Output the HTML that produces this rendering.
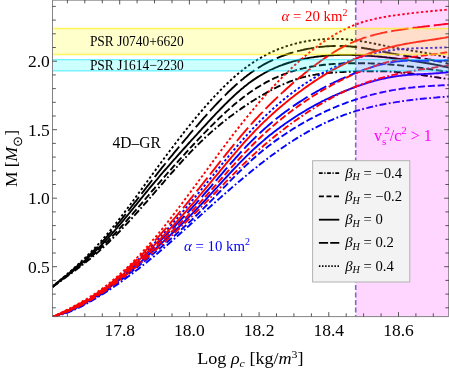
<!DOCTYPE html>
<html><head><meta charset="utf-8"><title>plot</title>
<style>html,body{margin:0;padding:0;background:#fff;}body{width:449px;height:371px;position:relative;overflow:hidden;font-family:"Liberation Serif",serif;}</style>
</head><body>
<svg width="449" height="371" viewBox="0 0 449 371" style="position:absolute;left:0;top:0;will-change:transform;font-family:'Liberation Serif',serif">
<defs><clipPath id="cp"><rect x="52.5" y="0" width="396.5" height="316.6"/></clipPath></defs>
<rect x="0" y="0" width="449" height="371" fill="#fff"/>
<g clip-path="url(#cp)" fill="none">
<line x1="355.7" y1="0" x2="355.7" y2="316.6" stroke="#5E81B5" stroke-width="1.6" stroke-dasharray="5 2.5"/>
<path d="M52.5,287.0 L54.0,285.9 L55.5,284.8 L57.0,283.7 L58.5,282.6 L60.0,281.5 L61.5,280.4 L63.0,279.3 L64.5,278.3 L66.0,277.2 L67.5,276.1 L69.0,275.0 L70.5,273.9 L72.0,272.8 L73.5,271.7 L75.0,270.5 L76.5,269.4 L78.0,268.3 L79.5,267.2 L81.0,266.0 L82.5,264.8 L84.0,263.7 L85.5,262.5 L87.0,261.3 L88.5,260.1 L90.0,258.9 L91.5,257.7 L93.0,256.4 L94.5,255.1 L96.0,253.9 L97.5,252.6 L99.0,251.3 L100.5,249.9 L102.0,248.6 L103.5,247.2 L105.0,245.8 L106.5,244.4 L108.0,243.0 L109.5,241.5 L111.0,240.1 L112.5,238.6 L114.0,237.1 L115.5,235.6 L117.0,234.1 L118.5,232.5 L120.0,231.0 L121.5,229.4 L123.0,227.8 L124.5,226.2 L126.0,224.6 L127.5,223.0 L129.0,221.4 L130.5,219.8 L132.0,218.1 L133.5,216.5 L135.0,214.8 L136.5,213.2 L138.0,211.5 L139.5,209.8 L141.0,208.1 L142.5,206.4 L144.0,204.7 L145.5,203.0 L147.0,201.3 L148.5,199.6 L150.0,197.8 L151.5,196.1 L153.0,194.4 L154.5,192.7 L156.0,190.9 L157.5,189.2 L159.0,187.5 L160.5,185.7 L162.0,184.0 L163.5,182.3 L165.0,180.5 L166.5,178.8 L168.0,177.1 L169.5,175.4 L171.0,173.7 L172.5,172.0 L174.0,170.3 L175.5,168.6 L177.0,166.9 L178.5,165.2 L180.0,163.5 L181.5,161.9 L183.0,160.2 L184.5,158.6 L186.0,157.0 L187.5,155.4 L189.0,153.8 L190.5,152.2 L192.0,150.6 L193.5,149.1 L195.0,147.6 L196.5,146.0 L198.0,144.5 L199.5,143.1 L201.0,141.6 L202.5,140.2 L204.0,138.7 L205.5,137.3 L207.0,135.9 L208.5,134.6 L210.0,133.2 L211.5,131.9 L213.0,130.6 L214.5,129.3 L216.0,128.0 L217.5,126.7 L219.0,125.5 L220.5,124.2 L222.0,123.0 L223.5,121.8 L225.0,120.6 L226.5,119.4 L228.0,118.3 L229.5,117.1 L231.0,116.0 L232.5,114.9 L234.0,113.8 L235.5,112.7 L237.0,111.6 L238.5,110.5 L240.0,109.5 L241.5,108.4 L243.0,107.4 L244.5,106.4 L246.0,105.4 L247.5,104.4 L249.0,103.4 L250.5,102.4 L252.0,101.4 L253.5,100.5 L255.0,99.5 L256.5,98.6 L258.0,97.7 L259.5,96.8 L261.0,95.9 L262.5,95.0 L264.0,94.1 L265.5,93.3 L267.0,92.4 L268.5,91.6 L270.0,90.8 L271.5,90.0 L273.0,89.2 L274.5,88.4 L276.0,87.7 L277.5,86.9 L279.0,86.2 L280.5,85.5 L282.0,84.8 L283.5,84.2 L285.0,83.5 L286.5,82.9 L288.0,82.3 L289.5,81.7 L291.0,81.1 L292.5,80.6 L294.0,80.0 L295.5,79.5 L297.0,79.0 L298.5,78.5 L300.0,78.1 L301.5,77.7 L303.0,77.2 L304.5,76.9 L306.0,76.5 L307.5,76.1 L309.0,75.8 L310.5,75.5 L312.0,75.2 L313.5,74.9 L315.0,74.7 L316.5,74.4 L318.0,74.2 L319.5,74.0 L321.0,73.8 L322.5,73.6 L324.0,73.4 L325.5,73.2 L327.0,73.1 L328.5,73.0 L330.0,72.8 L331.5,72.7 L333.0,72.6 L334.5,72.5 L336.0,72.4 L337.5,72.3 L339.0,72.2 L340.5,72.1 L342.0,72.1 L343.5,72.0 L345.0,71.9 L346.5,71.9 L348.0,71.8 L349.5,71.7 L351.0,71.7 L352.5,71.6 L354.0,71.6 L355.5,71.5 L357.0,71.5 L358.5,71.4 L360.0,71.4 L361.5,71.4 L363.0,71.3 L364.5,71.3 L366.0,71.3 L367.5,71.2 L369.0,71.2 L370.5,71.2 L372.0,71.2 L373.5,71.2 L375.0,71.2 L376.5,71.2 L378.0,71.2 L379.5,71.2 L381.0,71.3 L382.5,71.3 L384.0,71.3 L385.5,71.4 L387.0,71.4 L388.5,71.5 L390.0,71.6 L391.5,71.6 L393.0,71.7 L394.5,71.8 L396.0,71.9 L397.5,72.1 L399.0,72.2 L400.5,72.3 L402.0,72.5 L403.5,72.6 L405.0,72.8 L406.5,73.0 L408.0,73.1 L409.5,73.3 L411.0,73.5 L412.5,73.7 L414.0,73.9 L415.5,74.1 L417.0,74.4 L418.5,74.6 L420.0,74.8 L421.5,75.0 L423.0,75.2 L424.5,75.5 L426.0,75.7 L427.5,75.9 L429.0,76.2 L430.5,76.4 L432.0,76.6 L433.5,76.9 L435.0,77.1 L436.5,77.3 L438.0,77.5 L439.5,77.8 L441.0,78.0 L442.5,78.2 L444.0,78.4 L445.5,78.6 L447.0,78.8 L448.5,78.9 L449.0,79.0" stroke="#000000" stroke-width="1.9" stroke-dasharray="7 2.4 1.8 2.4"/>
<path d="M52.5,286.9 L54.0,285.7 L55.5,284.6 L57.0,283.4 L58.5,282.2 L60.0,281.1 L61.5,280.0 L63.0,278.8 L64.5,277.7 L66.0,276.5 L67.5,275.4 L69.0,274.3 L70.5,273.1 L72.0,272.0 L73.5,270.8 L75.0,269.7 L76.5,268.5 L78.0,267.3 L79.5,266.2 L81.0,265.0 L82.5,263.8 L84.0,262.6 L85.5,261.3 L87.0,260.1 L88.5,258.9 L90.0,257.6 L91.5,256.3 L93.0,255.0 L94.5,253.7 L96.0,252.4 L97.5,251.0 L99.0,249.6 L100.5,248.2 L102.0,246.8 L103.5,245.3 L105.0,243.9 L106.5,242.4 L108.0,240.9 L109.5,239.3 L111.0,237.8 L112.5,236.2 L114.0,234.6 L115.5,233.0 L117.0,231.4 L118.5,229.8 L120.0,228.1 L121.5,226.5 L123.0,224.8 L124.5,223.1 L126.0,221.4 L127.5,219.7 L129.0,218.0 L130.5,216.3 L132.0,214.5 L133.5,212.8 L135.0,211.1 L136.5,209.3 L138.0,207.6 L139.5,205.8 L141.0,204.1 L142.5,202.3 L144.0,200.5 L145.5,198.8 L147.0,197.0 L148.5,195.3 L150.0,193.5 L151.5,191.7 L153.0,190.0 L154.5,188.3 L156.0,186.5 L157.5,184.8 L159.0,183.0 L160.5,181.3 L162.0,179.6 L163.5,177.9 L165.0,176.1 L166.5,174.4 L168.0,172.7 L169.5,171.0 L171.0,169.3 L172.5,167.6 L174.0,165.9 L175.5,164.2 L177.0,162.6 L178.5,160.9 L180.0,159.2 L181.5,157.6 L183.0,155.9 L184.5,154.3 L186.0,152.6 L187.5,151.0 L189.0,149.3 L190.5,147.7 L192.0,146.1 L193.5,144.5 L195.0,142.9 L196.5,141.3 L198.0,139.7 L199.5,138.1 L201.0,136.6 L202.5,135.0 L204.0,133.4 L205.5,131.9 L207.0,130.3 L208.5,128.8 L210.0,127.3 L211.5,125.8 L213.0,124.3 L214.5,122.8 L216.0,121.3 L217.5,119.9 L219.0,118.4 L220.5,117.0 L222.0,115.6 L223.5,114.2 L225.0,112.8 L226.5,111.4 L228.0,110.1 L229.5,108.7 L231.0,107.4 L232.5,106.1 L234.0,104.8 L235.5,103.6 L237.0,102.3 L238.5,101.1 L240.0,99.9 L241.5,98.7 L243.0,97.5 L244.5,96.4 L246.0,95.3 L247.5,94.2 L249.0,93.1 L250.5,92.0 L252.0,91.0 L253.5,90.0 L255.0,89.0 L256.5,88.0 L258.0,87.1 L259.5,86.2 L261.0,85.3 L262.5,84.4 L264.0,83.6 L265.5,82.7 L267.0,81.9 L268.5,81.1 L270.0,80.4 L271.5,79.6 L273.0,78.9 L274.5,78.2 L276.0,77.5 L277.5,76.9 L279.0,76.2 L280.5,75.6 L282.0,75.0 L283.5,74.4 L285.0,73.8 L286.5,73.3 L288.0,72.7 L289.5,72.2 L291.0,71.7 L292.5,71.3 L294.0,70.8 L295.5,70.4 L297.0,69.9 L298.5,69.5 L300.0,69.1 L301.5,68.7 L303.0,68.4 L304.5,68.0 L306.0,67.7 L307.5,67.4 L309.0,67.1 L310.5,66.8 L312.0,66.5 L313.5,66.3 L315.0,66.0 L316.5,65.8 L318.0,65.6 L319.5,65.4 L321.0,65.2 L322.5,65.0 L324.0,64.8 L325.5,64.7 L327.0,64.5 L328.5,64.4 L330.0,64.2 L331.5,64.1 L333.0,64.0 L334.5,63.9 L336.0,63.8 L337.5,63.7 L339.0,63.7 L340.5,63.6 L342.0,63.5 L343.5,63.5 L345.0,63.4 L346.5,63.4 L348.0,63.3 L349.5,63.3 L351.0,63.3 L352.5,63.3 L354.0,63.2 L355.5,63.2 L357.0,63.2 L358.5,63.2 L360.0,63.2 L361.5,63.3 L363.0,63.3 L364.5,63.3 L366.0,63.3 L367.5,63.3 L369.0,63.4 L370.5,63.4 L372.0,63.5 L373.5,63.5 L375.0,63.6 L376.5,63.7 L378.0,63.7 L379.5,63.8 L381.0,63.9 L382.5,64.0 L384.0,64.1 L385.5,64.2 L387.0,64.3 L388.5,64.4 L390.0,64.5 L391.5,64.6 L393.0,64.7 L394.5,64.9 L396.0,65.0 L397.5,65.1 L399.0,65.3 L400.5,65.4 L402.0,65.6 L403.5,65.7 L405.0,65.9 L406.5,66.1 L408.0,66.3 L409.5,66.4 L411.0,66.6 L412.5,66.8 L414.0,67.0 L415.5,67.2 L417.0,67.4 L418.5,67.6 L420.0,67.8 L421.5,68.0 L423.0,68.2 L424.5,68.4 L426.0,68.7 L427.5,68.9 L429.0,69.1 L430.5,69.3 L432.0,69.5 L433.5,69.8 L435.0,70.0 L436.5,70.2 L438.0,70.4 L439.5,70.6 L441.0,70.8 L442.5,71.1 L444.0,71.3 L445.5,71.5 L447.0,71.7 L448.5,71.9 L449.0,72.0" stroke="#000000" stroke-width="1.9" stroke-dasharray="7 2.8"/>
<path d="M52.5,286.8 L54.0,285.6 L55.5,284.4 L57.0,283.2 L58.5,282.0 L60.0,280.8 L61.5,279.6 L63.0,278.4 L64.5,277.2 L66.0,276.0 L67.5,274.8 L69.0,273.6 L70.5,272.4 L72.0,271.2 L73.5,270.0 L75.0,268.8 L76.5,267.6 L78.0,266.4 L79.5,265.1 L81.0,263.9 L82.5,262.6 L84.0,261.3 L85.5,260.0 L87.0,258.7 L88.5,257.4 L90.0,256.1 L91.5,254.7 L93.0,253.3 L94.5,251.9 L96.0,250.5 L97.5,249.0 L99.0,247.5 L100.5,246.0 L102.0,244.5 L103.5,242.9 L105.0,241.3 L106.5,239.7 L108.0,238.1 L109.5,236.4 L111.0,234.8 L112.5,233.1 L114.0,231.4 L115.5,229.6 L117.0,227.9 L118.5,226.1 L120.0,224.4 L121.5,222.6 L123.0,220.8 L124.5,219.0 L126.0,217.1 L127.5,215.3 L129.0,213.5 L130.5,211.7 L132.0,209.8 L133.5,208.0 L135.0,206.1 L136.5,204.3 L138.0,202.4 L139.5,200.6 L141.0,198.7 L142.5,196.9 L144.0,195.0 L145.5,193.2 L147.0,191.3 L148.5,189.5 L150.0,187.7 L151.5,185.9 L153.0,184.1 L154.5,182.3 L156.0,180.5 L157.5,178.8 L159.0,177.0 L160.5,175.2 L162.0,173.5 L163.5,171.7 L165.0,170.0 L166.5,168.3 L168.0,166.6 L169.5,164.9 L171.0,163.1 L172.5,161.4 L174.0,159.7 L175.5,158.1 L177.0,156.4 L178.5,154.7 L180.0,153.0 L181.5,151.3 L183.0,149.7 L184.5,148.0 L186.0,146.3 L187.5,144.7 L189.0,143.0 L190.5,141.4 L192.0,139.7 L193.5,138.1 L195.0,136.4 L196.5,134.8 L198.0,133.2 L199.5,131.5 L201.0,129.9 L202.5,128.2 L204.0,126.6 L205.5,125.0 L207.0,123.3 L208.5,121.7 L210.0,120.1 L211.5,118.5 L213.0,116.9 L214.5,115.3 L216.0,113.7 L217.5,112.1 L219.0,110.6 L220.5,109.0 L222.0,107.5 L223.5,106.0 L225.0,104.4 L226.5,103.0 L228.0,101.5 L229.5,100.0 L231.0,98.6 L232.5,97.2 L234.0,95.8 L235.5,94.4 L237.0,93.0 L238.5,91.7 L240.0,90.4 L241.5,89.1 L243.0,87.9 L244.5,86.6 L246.0,85.4 L247.5,84.3 L249.0,83.1 L250.5,82.0 L252.0,80.9 L253.5,79.9 L255.0,78.9 L256.5,77.9 L258.0,76.9 L259.5,76.0 L261.0,75.1 L262.5,74.2 L264.0,73.3 L265.5,72.5 L267.0,71.7 L268.5,70.9 L270.0,70.2 L271.5,69.5 L273.0,68.8 L274.5,68.1 L276.0,67.5 L277.5,66.8 L279.0,66.2 L280.5,65.6 L282.0,65.1 L283.5,64.5 L285.0,64.0 L286.5,63.5 L288.0,63.0 L289.5,62.5 L291.0,62.1 L292.5,61.6 L294.0,61.2 L295.5,60.8 L297.0,60.4 L298.5,60.1 L300.0,59.7 L301.5,59.4 L303.0,59.1 L304.5,58.7 L306.0,58.4 L307.5,58.2 L309.0,57.9 L310.5,57.6 L312.0,57.4 L313.5,57.2 L315.0,56.9 L316.5,56.7 L318.0,56.5 L319.5,56.4 L321.0,56.2 L322.5,56.0 L324.0,55.9 L325.5,55.7 L327.0,55.6 L328.5,55.5 L330.0,55.4 L331.5,55.3 L333.0,55.2 L334.5,55.1 L336.0,55.1 L337.5,55.0 L339.0,55.0 L340.5,54.9 L342.0,54.9 L343.5,54.9 L345.0,54.9 L346.5,54.9 L348.0,54.9 L349.5,54.9 L351.0,54.9 L352.5,55.0 L354.0,55.0 L355.5,55.1 L357.0,55.1 L358.5,55.2 L360.0,55.2 L361.5,55.3 L363.0,55.4 L364.5,55.5 L366.0,55.6 L367.5,55.7 L369.0,55.8 L370.5,55.9 L372.0,56.0 L373.5,56.1 L375.0,56.3 L376.5,56.4 L378.0,56.5 L379.5,56.7 L381.0,56.8 L382.5,57.0 L384.0,57.1 L385.5,57.3 L387.0,57.5 L388.5,57.6 L390.0,57.8 L391.5,58.0 L393.0,58.2 L394.5,58.3 L396.0,58.5 L397.5,58.7 L399.0,58.9 L400.5,59.1 L402.0,59.3 L403.5,59.5 L405.0,59.7 L406.5,59.9 L408.0,60.1 L409.5,60.4 L411.0,60.6 L412.5,60.8 L414.0,61.0 L415.5,61.2 L417.0,61.5 L418.5,61.7 L420.0,62.0 L421.5,62.2 L423.0,62.5 L424.5,62.7 L426.0,63.0 L427.5,63.2 L429.0,63.5 L430.5,63.8 L432.0,64.1 L433.5,64.3 L435.0,64.6 L436.5,64.9 L438.0,65.2 L439.5,65.5 L441.0,65.8 L442.5,66.2 L444.0,66.5 L445.5,66.8 L447.0,67.1 L448.5,67.5 L449.0,67.6" stroke="#000000" stroke-width="1.9"/>
<path d="M52.5,286.7 L54.0,285.5 L55.5,284.2 L57.0,283.0 L58.5,281.8 L60.0,280.6 L61.5,279.3 L63.0,278.1 L64.5,276.9 L66.0,275.6 L67.5,274.4 L69.0,273.1 L70.5,271.9 L72.0,270.6 L73.5,269.3 L75.0,268.0 L76.5,266.7 L78.0,265.4 L79.5,264.1 L81.0,262.7 L82.5,261.4 L84.0,260.0 L85.5,258.6 L87.0,257.2 L88.5,255.8 L90.0,254.4 L91.5,252.9 L93.0,251.4 L94.5,249.9 L96.0,248.4 L97.5,246.9 L99.0,245.3 L100.5,243.7 L102.0,242.1 L103.5,240.5 L105.0,238.8 L106.5,237.1 L108.0,235.4 L109.5,233.7 L111.0,231.9 L112.5,230.2 L114.0,228.4 L115.5,226.6 L117.0,224.8 L118.5,223.0 L120.0,221.1 L121.5,219.3 L123.0,217.4 L124.5,215.5 L126.0,213.7 L127.5,211.8 L129.0,209.9 L130.5,208.0 L132.0,206.0 L133.5,204.1 L135.0,202.2 L136.5,200.3 L138.0,198.3 L139.5,196.4 L141.0,194.5 L142.5,192.5 L144.0,190.6 L145.5,188.7 L147.0,186.7 L148.5,184.8 L150.0,182.9 L151.5,181.0 L153.0,179.1 L154.5,177.2 L156.0,175.3 L157.5,173.4 L159.0,171.5 L160.5,169.6 L162.0,167.7 L163.5,165.9 L165.0,164.0 L166.5,162.1 L168.0,160.3 L169.5,158.4 L171.0,156.6 L172.5,154.8 L174.0,152.9 L175.5,151.1 L177.0,149.3 L178.5,147.5 L180.0,145.7 L181.5,143.9 L183.0,142.1 L184.5,140.3 L186.0,138.5 L187.5,136.8 L189.0,135.0 L190.5,133.2 L192.0,131.5 L193.5,129.7 L195.0,128.0 L196.5,126.3 L198.0,124.6 L199.5,122.8 L201.0,121.1 L202.5,119.4 L204.0,117.7 L205.5,116.1 L207.0,114.4 L208.5,112.7 L210.0,111.1 L211.5,109.4 L213.0,107.8 L214.5,106.2 L216.0,104.6 L217.5,103.0 L219.0,101.4 L220.5,99.9 L222.0,98.3 L223.5,96.8 L225.0,95.3 L226.5,93.8 L228.0,92.3 L229.5,90.9 L231.0,89.5 L232.5,88.0 L234.0,86.7 L235.5,85.3 L237.0,84.0 L238.5,82.6 L240.0,81.4 L241.5,80.1 L243.0,78.9 L244.5,77.6 L246.0,76.5 L247.5,75.3 L249.0,74.2 L250.5,73.1 L252.0,72.0 L253.5,71.0 L255.0,69.9 L256.5,69.0 L258.0,68.0 L259.5,67.1 L261.0,66.2 L262.5,65.3 L264.0,64.4 L265.5,63.6 L267.0,62.8 L268.5,62.0 L270.0,61.3 L271.5,60.6 L273.0,59.9 L274.5,59.2 L276.0,58.5 L277.5,57.9 L279.0,57.3 L280.5,56.7 L282.0,56.1 L283.5,55.5 L285.0,55.0 L286.5,54.5 L288.0,54.0 L289.5,53.5 L291.0,53.0 L292.5,52.6 L294.0,52.2 L295.5,51.7 L297.0,51.3 L298.5,50.9 L300.0,50.6 L301.5,50.2 L303.0,49.9 L304.5,49.5 L306.0,49.2 L307.5,48.9 L309.0,48.6 L310.5,48.4 L312.0,48.1 L313.5,47.9 L315.0,47.6 L316.5,47.4 L318.0,47.2 L319.5,47.0 L321.0,46.9 L322.5,46.7 L324.0,46.6 L325.5,46.4 L327.0,46.3 L328.5,46.2 L330.0,46.1 L331.5,46.1 L333.0,46.0 L334.5,46.0 L336.0,46.0 L337.5,45.9 L339.0,46.0 L340.5,46.0 L342.0,46.0 L343.5,46.1 L345.0,46.1 L346.5,46.2 L348.0,46.3 L349.5,46.4 L351.0,46.5 L352.5,46.7 L354.0,46.8 L355.5,47.0 L357.0,47.2 L358.5,47.4 L360.0,47.6 L361.5,47.8 L363.0,48.0 L364.5,48.3 L366.0,48.5 L367.5,48.8 L369.0,49.0 L370.5,49.3 L372.0,49.6 L373.5,49.8 L375.0,50.1 L376.5,50.4 L378.0,50.7 L379.5,51.0 L381.0,51.3 L382.5,51.6 L384.0,51.9 L385.5,52.2 L387.0,52.5 L388.5,52.8 L390.0,53.1 L391.5,53.4 L393.0,53.6 L394.5,53.9 L396.0,54.2 L397.5,54.5 L399.0,54.7 L400.5,55.0 L402.0,55.2 L403.5,55.5 L405.0,55.7 L406.5,56.0 L408.0,56.2 L409.5,56.4 L411.0,56.6 L412.5,56.9 L414.0,57.1 L415.5,57.3 L417.0,57.5 L418.5,57.8 L420.0,58.0 L421.5,58.2 L423.0,58.5 L424.5,58.7 L426.0,58.9 L427.5,59.2 L429.0,59.4 L430.5,59.7 L432.0,60.0 L433.5,60.3 L435.0,60.6 L436.5,60.9 L438.0,61.2 L439.5,61.5 L441.0,61.9 L442.5,62.2 L444.0,62.6 L445.5,63.0 L447.0,63.4 L448.5,63.9 L449.0,64.0" stroke="#000000" stroke-width="1.9" stroke-dasharray="17.5 4"/>
<path d="M52.5,286.5 L54.0,285.2 L55.5,284.0 L57.0,282.7 L58.5,281.5 L60.0,280.2 L61.5,279.0 L63.0,277.7 L64.5,276.4 L66.0,275.1 L67.5,273.8 L69.0,272.5 L70.5,271.2 L72.0,269.9 L73.5,268.6 L75.0,267.2 L76.5,265.9 L78.0,264.5 L79.5,263.1 L81.0,261.7 L82.5,260.3 L84.0,258.9 L85.5,257.4 L87.0,256.0 L88.5,254.5 L90.0,253.0 L91.5,251.4 L93.0,249.9 L94.5,248.3 L96.0,246.7 L97.5,245.1 L99.0,243.5 L100.5,241.8 L102.0,240.1 L103.5,238.4 L105.0,236.7 L106.5,234.9 L108.0,233.1 L109.5,231.3 L111.0,229.5 L112.5,227.6 L114.0,225.8 L115.5,223.9 L117.0,222.0 L118.5,220.1 L120.0,218.1 L121.5,216.2 L123.0,214.2 L124.5,212.3 L126.0,210.3 L127.5,208.3 L129.0,206.3 L130.5,204.3 L132.0,202.2 L133.5,200.2 L135.0,198.2 L136.5,196.1 L138.0,194.1 L139.5,192.0 L141.0,190.0 L142.5,187.9 L144.0,185.9 L145.5,183.8 L147.0,181.7 L148.5,179.7 L150.0,177.6 L151.5,175.6 L153.0,173.5 L154.5,171.5 L156.0,169.4 L157.5,167.4 L159.0,165.3 L160.5,163.3 L162.0,161.3 L163.5,159.3 L165.0,157.2 L166.5,155.2 L168.0,153.2 L169.5,151.2 L171.0,149.2 L172.5,147.3 L174.0,145.3 L175.5,143.3 L177.0,141.4 L178.5,139.4 L180.0,137.5 L181.5,135.6 L183.0,133.6 L184.5,131.7 L186.0,129.8 L187.5,128.0 L189.0,126.1 L190.5,124.2 L192.0,122.4 L193.5,120.5 L195.0,118.7 L196.5,116.9 L198.0,115.1 L199.5,113.3 L201.0,111.6 L202.5,109.8 L204.0,108.1 L205.5,106.4 L207.0,104.7 L208.5,103.0 L210.0,101.3 L211.5,99.7 L213.0,98.1 L214.5,96.4 L216.0,94.9 L217.5,93.3 L219.0,91.7 L220.5,90.2 L222.0,88.7 L223.5,87.2 L225.0,85.7 L226.5,84.2 L228.0,82.8 L229.5,81.4 L231.0,80.0 L232.5,78.7 L234.0,77.3 L235.5,76.0 L237.0,74.7 L238.5,73.4 L240.0,72.2 L241.5,71.0 L243.0,69.8 L244.5,68.6 L246.0,67.5 L247.5,66.4 L249.0,65.3 L250.5,64.2 L252.0,63.2 L253.5,62.2 L255.0,61.2 L256.5,60.3 L258.0,59.3 L259.5,58.4 L261.0,57.6 L262.5,56.7 L264.0,55.9 L265.5,55.1 L267.0,54.3 L268.5,53.6 L270.0,52.8 L271.5,52.1 L273.0,51.4 L274.5,50.8 L276.0,50.1 L277.5,49.5 L279.0,48.9 L280.5,48.4 L282.0,47.8 L283.5,47.3 L285.0,46.7 L286.5,46.2 L288.0,45.8 L289.5,45.3 L291.0,44.9 L292.5,44.4 L294.0,44.0 L295.5,43.6 L297.0,43.3 L298.5,42.9 L300.0,42.5 L301.5,42.2 L303.0,41.9 L304.5,41.6 L306.0,41.3 L307.5,41.1 L309.0,40.8 L310.5,40.6 L312.0,40.4 L313.5,40.1 L315.0,40.0 L316.5,39.8 L318.0,39.6 L319.5,39.5 L321.0,39.3 L322.5,39.2 L324.0,39.1 L325.5,39.0 L327.0,39.0 L328.5,38.9 L330.0,38.9 L331.5,38.8 L333.0,38.8 L334.5,38.8 L336.0,38.8 L337.5,38.9 L339.0,38.9 L340.5,39.0 L342.0,39.0 L343.5,39.1 L345.0,39.2 L346.5,39.4 L348.0,39.5 L349.5,39.6 L351.0,39.8 L352.5,40.0 L354.0,40.1 L355.5,40.3 L357.0,40.6 L358.5,40.8 L360.0,41.0 L361.5,41.3 L363.0,41.5 L364.5,41.8 L366.0,42.0 L367.5,42.3 L369.0,42.6 L370.5,42.9 L372.0,43.2 L373.5,43.5 L375.0,43.8 L376.5,44.1 L378.0,44.4 L379.5,44.7 L381.0,45.0 L382.5,45.3 L384.0,45.6 L385.5,46.0 L387.0,46.3 L388.5,46.6 L390.0,46.9 L391.5,47.2 L393.0,47.5 L394.5,47.8 L396.0,48.1 L397.5,48.3 L399.0,48.6 L400.5,48.9 L402.0,49.2 L403.5,49.4 L405.0,49.7 L406.5,49.9 L408.0,50.1 L409.5,50.4 L411.0,50.6 L412.5,50.8 L414.0,51.1 L415.5,51.3 L417.0,51.5 L418.5,51.8 L420.0,52.0 L421.5,52.2 L423.0,52.5 L424.5,52.7 L426.0,53.0 L427.5,53.2 L429.0,53.5 L430.5,53.8 L432.0,54.0 L433.5,54.3 L435.0,54.6 L436.5,54.9 L438.0,55.3 L439.5,55.6 L441.0,55.9 L442.5,56.3 L444.0,56.7 L445.5,57.0 L447.0,57.4 L448.5,57.9 L449.0,58.0" stroke="#000000" stroke-width="1.9" stroke-dasharray="2.4 2.3"/>
<path d="M52.5,317.0 L54.0,316.7 L55.5,316.4 L57.0,316.0 L58.5,315.6 L60.0,315.1 L61.5,314.7 L63.0,314.2 L64.5,313.7 L66.0,313.2 L67.5,312.6 L69.0,312.0 L70.5,311.4 L72.0,310.8 L73.5,310.1 L75.0,309.5 L76.5,308.8 L78.0,308.1 L79.5,307.3 L81.0,306.6 L82.5,305.8 L84.0,305.0 L85.5,304.2 L87.0,303.4 L88.5,302.6 L90.0,301.7 L91.5,300.9 L93.0,300.0 L94.5,299.1 L96.0,298.2 L97.5,297.3 L99.0,296.4 L100.5,295.5 L102.0,294.5 L103.5,293.6 L105.0,292.6 L106.5,291.7 L108.0,290.7 L109.5,289.7 L111.0,288.7 L112.5,287.7 L114.0,286.7 L115.5,285.6 L117.0,284.6 L118.5,283.6 L120.0,282.5 L121.5,281.5 L123.0,280.4 L124.5,279.3 L126.0,278.2 L127.5,277.1 L129.0,276.0 L130.5,274.9 L132.0,273.8 L133.5,272.6 L135.0,271.5 L136.5,270.3 L138.0,269.2 L139.5,268.0 L141.0,266.8 L142.5,265.7 L144.0,264.5 L145.5,263.3 L147.0,262.1 L148.5,260.8 L150.0,259.6 L151.5,258.4 L153.0,257.1 L154.5,255.9 L156.0,254.6 L157.5,253.4 L159.0,252.1 L160.5,250.8 L162.0,249.5 L163.5,248.3 L165.0,247.0 L166.5,245.7 L168.0,244.4 L169.5,243.0 L171.0,241.7 L172.5,240.4 L174.0,239.1 L175.5,237.8 L177.0,236.4 L178.5,235.1 L180.0,233.8 L181.5,232.4 L183.0,231.1 L184.5,229.7 L186.0,228.4 L187.5,227.0 L189.0,225.7 L190.5,224.3 L192.0,223.0 L193.5,221.6 L195.0,220.3 L196.5,219.0 L198.0,217.6 L199.5,216.3 L201.0,214.9 L202.5,213.6 L204.0,212.2 L205.5,210.9 L207.0,209.5 L208.5,208.2 L210.0,206.9 L211.5,205.5 L213.0,204.2 L214.5,202.9 L216.0,201.5 L217.5,200.2 L219.0,198.9 L220.5,197.6 L222.0,196.2 L223.5,194.9 L225.0,193.6 L226.5,192.3 L228.0,191.0 L229.5,189.7 L231.0,188.4 L232.5,187.1 L234.0,185.9 L235.5,184.6 L237.0,183.3 L238.5,182.0 L240.0,180.8 L241.5,179.5 L243.0,178.2 L244.5,177.0 L246.0,175.7 L247.5,174.5 L249.0,173.3 L250.5,172.0 L252.0,170.8 L253.5,169.6 L255.0,168.4 L256.5,167.2 L258.0,166.0 L259.5,164.8 L261.0,163.6 L262.5,162.5 L264.0,161.3 L265.5,160.2 L267.0,159.0 L268.5,157.9 L270.0,156.7 L271.5,155.6 L273.0,154.5 L274.5,153.4 L276.0,152.3 L277.5,151.2 L279.0,150.2 L280.5,149.1 L282.0,148.0 L283.5,147.0 L285.0,146.0 L286.5,144.9 L288.0,143.9 L289.5,142.9 L291.0,141.9 L292.5,141.0 L294.0,140.0 L295.5,139.1 L297.0,138.1 L298.5,137.2 L300.0,136.3 L301.5,135.4 L303.0,134.5 L304.5,133.6 L306.0,132.8 L307.5,131.9 L309.0,131.1 L310.5,130.2 L312.0,129.4 L313.5,128.6 L315.0,127.8 L316.5,127.1 L318.0,126.3 L319.5,125.6 L321.0,124.8 L322.5,124.1 L324.0,123.4 L325.5,122.7 L327.0,122.0 L328.5,121.3 L330.0,120.7 L331.5,120.0 L333.0,119.4 L334.5,118.8 L336.0,118.1 L337.5,117.5 L339.0,116.9 L340.5,116.4 L342.0,115.8 L343.5,115.2 L345.0,114.7 L346.5,114.2 L348.0,113.6 L349.5,113.1 L351.0,112.6 L352.5,112.1 L354.0,111.7 L355.5,111.2 L357.0,110.7 L358.5,110.3 L360.0,109.9 L361.5,109.5 L363.0,109.0 L364.5,108.6 L366.0,108.2 L367.5,107.9 L369.0,107.5 L370.5,107.1 L372.0,106.8 L373.5,106.4 L375.0,106.1 L376.5,105.7 L378.0,105.4 L379.5,105.1 L381.0,104.8 L382.5,104.5 L384.0,104.2 L385.5,103.9 L387.0,103.6 L388.5,103.4 L390.0,103.1 L391.5,102.9 L393.0,102.6 L394.5,102.4 L396.0,102.1 L397.5,101.9 L399.0,101.7 L400.5,101.4 L402.0,101.2 L403.5,101.0 L405.0,100.8 L406.5,100.6 L408.0,100.4 L409.5,100.2 L411.0,100.0 L412.5,99.9 L414.0,99.7 L415.5,99.5 L417.0,99.3 L418.5,99.2 L420.0,99.0 L421.5,98.8 L423.0,98.7 L424.5,98.5 L426.0,98.4 L427.5,98.2 L429.0,98.1 L430.5,98.0 L432.0,97.8 L433.5,97.7 L435.0,97.6 L436.5,97.5 L438.0,97.3 L439.5,97.2 L441.0,97.1 L442.5,97.0 L444.0,96.9 L445.5,96.8 L447.0,96.6 L448.5,96.5 L449.0,96.5" stroke="#0000ff" stroke-width="1.9" stroke-dasharray="7 2.4 1.8 2.4"/>
<path d="M52.5,317.0 L54.0,316.6 L55.5,316.2 L57.0,315.7 L58.5,315.2 L60.0,314.7 L61.5,314.2 L63.0,313.7 L64.5,313.1 L66.0,312.5 L67.5,312.0 L69.0,311.3 L70.5,310.7 L72.0,310.1 L73.5,309.4 L75.0,308.7 L76.5,308.0 L78.0,307.3 L79.5,306.6 L81.0,305.8 L82.5,305.1 L84.0,304.3 L85.5,303.5 L87.0,302.7 L88.5,301.8 L90.0,301.0 L91.5,300.1 L93.0,299.2 L94.5,298.3 L96.0,297.4 L97.5,296.5 L99.0,295.6 L100.5,294.6 L102.0,293.6 L103.5,292.6 L105.0,291.6 L106.5,290.6 L108.0,289.6 L109.5,288.5 L111.0,287.4 L112.5,286.4 L114.0,285.3 L115.5,284.2 L117.0,283.1 L118.5,282.0 L120.0,280.8 L121.5,279.7 L123.0,278.5 L124.5,277.4 L126.0,276.2 L127.5,275.0 L129.0,273.8 L130.5,272.6 L132.0,271.4 L133.5,270.2 L135.0,269.0 L136.5,267.8 L138.0,266.6 L139.5,265.3 L141.0,264.1 L142.5,262.9 L144.0,261.6 L145.5,260.4 L147.0,259.1 L148.5,257.9 L150.0,256.6 L151.5,255.3 L153.0,254.1 L154.5,252.8 L156.0,251.6 L157.5,250.3 L159.0,249.0 L160.5,247.8 L162.0,246.5 L163.5,245.2 L165.0,243.9 L166.5,242.6 L168.0,241.3 L169.5,240.0 L171.0,238.7 L172.5,237.4 L174.0,236.1 L175.5,234.8 L177.0,233.4 L178.5,232.1 L180.0,230.7 L181.5,229.4 L183.0,228.0 L184.5,226.6 L186.0,225.3 L187.5,223.9 L189.0,222.5 L190.5,221.1 L192.0,219.7 L193.5,218.2 L195.0,216.8 L196.5,215.3 L198.0,213.9 L199.5,212.4 L201.0,210.9 L202.5,209.4 L204.0,207.9 L205.5,206.4 L207.0,204.9 L208.5,203.4 L210.0,201.8 L211.5,200.3 L213.0,198.8 L214.5,197.2 L216.0,195.7 L217.5,194.1 L219.0,192.5 L220.5,191.0 L222.0,189.4 L223.5,187.9 L225.0,186.3 L226.5,184.8 L228.0,183.2 L229.5,181.7 L231.0,180.2 L232.5,178.6 L234.0,177.1 L235.5,175.6 L237.0,174.1 L238.5,172.6 L240.0,171.1 L241.5,169.7 L243.0,168.2 L244.5,166.8 L246.0,165.4 L247.5,164.0 L249.0,162.6 L250.5,161.2 L252.0,159.8 L253.5,158.5 L255.0,157.2 L256.5,155.9 L258.0,154.6 L259.5,153.3 L261.0,152.1 L262.5,150.8 L264.0,149.6 L265.5,148.4 L267.0,147.2 L268.5,146.1 L270.0,144.9 L271.5,143.8 L273.0,142.6 L274.5,141.5 L276.0,140.4 L277.5,139.4 L279.0,138.3 L280.5,137.2 L282.0,136.2 L283.5,135.2 L285.0,134.2 L286.5,133.2 L288.0,132.2 L289.5,131.2 L291.0,130.3 L292.5,129.3 L294.0,128.4 L295.5,127.5 L297.0,126.6 L298.5,125.7 L300.0,124.8 L301.5,123.9 L303.0,123.0 L304.5,122.2 L306.0,121.4 L307.5,120.5 L309.0,119.7 L310.5,118.9 L312.0,118.1 L313.5,117.3 L315.0,116.5 L316.5,115.8 L318.0,115.0 L319.5,114.3 L321.0,113.6 L322.5,112.8 L324.0,112.1 L325.5,111.4 L327.0,110.7 L328.5,110.1 L330.0,109.4 L331.5,108.7 L333.0,108.1 L334.5,107.5 L336.0,106.8 L337.5,106.2 L339.0,105.6 L340.5,105.0 L342.0,104.4 L343.5,103.9 L345.0,103.3 L346.5,102.7 L348.0,102.2 L349.5,101.6 L351.0,101.1 L352.5,100.6 L354.0,100.1 L355.5,99.6 L357.0,99.1 L358.5,98.6 L360.0,98.1 L361.5,97.7 L363.0,97.2 L364.5,96.8 L366.0,96.3 L367.5,95.9 L369.0,95.5 L370.5,95.1 L372.0,94.7 L373.5,94.3 L375.0,93.9 L376.5,93.6 L378.0,93.2 L379.5,92.9 L381.0,92.5 L382.5,92.2 L384.0,91.9 L385.5,91.6 L387.0,91.3 L388.5,91.0 L390.0,90.7 L391.5,90.4 L393.0,90.1 L394.5,89.9 L396.0,89.6 L397.5,89.4 L399.0,89.2 L400.5,88.9 L402.0,88.7 L403.5,88.5 L405.0,88.3 L406.5,88.1 L408.0,88.0 L409.5,87.8 L411.0,87.6 L412.5,87.5 L414.0,87.3 L415.5,87.2 L417.0,87.0 L418.5,86.9 L420.0,86.8 L421.5,86.6 L423.0,86.5 L424.5,86.4 L426.0,86.3 L427.5,86.2 L429.0,86.1 L430.5,86.0 L432.0,85.9 L433.5,85.8 L435.0,85.7 L436.5,85.6 L438.0,85.6 L439.5,85.5 L441.0,85.4 L442.5,85.3 L444.0,85.3 L445.5,85.2 L447.0,85.1 L448.5,85.0 L449.0,85.0" stroke="#0000ff" stroke-width="1.9" stroke-dasharray="7 2.8"/>
<path d="M52.5,317.0 L54.0,316.5 L55.5,316.0 L57.0,315.5 L58.5,314.9 L60.0,314.4 L61.5,313.8 L63.0,313.2 L64.5,312.6 L66.0,312.0 L67.5,311.4 L69.0,310.8 L70.5,310.1 L72.0,309.4 L73.5,308.7 L75.0,308.0 L76.5,307.3 L78.0,306.6 L79.5,305.8 L81.0,305.1 L82.5,304.3 L84.0,303.5 L85.5,302.7 L87.0,301.8 L88.5,301.0 L90.0,300.1 L91.5,299.2 L93.0,298.3 L94.5,297.4 L96.0,296.5 L97.5,295.5 L99.0,294.6 L100.5,293.6 L102.0,292.6 L103.5,291.6 L105.0,290.5 L106.5,289.5 L108.0,288.4 L109.5,287.3 L111.0,286.2 L112.5,285.1 L114.0,284.0 L115.5,282.8 L117.0,281.7 L118.5,280.5 L120.0,279.3 L121.5,278.1 L123.0,276.9 L124.5,275.7 L126.0,274.5 L127.5,273.2 L129.0,272.0 L130.5,270.7 L132.0,269.5 L133.5,268.2 L135.0,266.9 L136.5,265.6 L138.0,264.3 L139.5,263.0 L141.0,261.7 L142.5,260.4 L144.0,259.0 L145.5,257.7 L147.0,256.4 L148.5,255.0 L150.0,253.7 L151.5,252.4 L153.0,251.0 L154.5,249.6 L156.0,248.3 L157.5,246.9 L159.0,245.6 L160.5,244.2 L162.0,242.8 L163.5,241.4 L165.0,240.0 L166.5,238.6 L168.0,237.2 L169.5,235.8 L171.0,234.4 L172.5,233.0 L174.0,231.6 L175.5,230.1 L177.0,228.7 L178.5,227.3 L180.0,225.8 L181.5,224.3 L183.0,222.9 L184.5,221.4 L186.0,219.9 L187.5,218.4 L189.0,216.9 L190.5,215.4 L192.0,213.9 L193.5,212.4 L195.0,210.8 L196.5,209.3 L198.0,207.7 L199.5,206.1 L201.0,204.6 L202.5,203.0 L204.0,201.4 L205.5,199.8 L207.0,198.2 L208.5,196.5 L210.0,194.9 L211.5,193.3 L213.0,191.7 L214.5,190.0 L216.0,188.4 L217.5,186.8 L219.0,185.1 L220.5,183.5 L222.0,181.8 L223.5,180.2 L225.0,178.6 L226.5,177.0 L228.0,175.3 L229.5,173.7 L231.0,172.1 L232.5,170.5 L234.0,168.9 L235.5,167.3 L237.0,165.8 L238.5,164.2 L240.0,162.7 L241.5,161.1 L243.0,159.6 L244.5,158.1 L246.0,156.6 L247.5,155.1 L249.0,153.7 L250.5,152.2 L252.0,150.8 L253.5,149.4 L255.0,148.0 L256.5,146.7 L258.0,145.3 L259.5,144.0 L261.0,142.7 L262.5,141.4 L264.0,140.1 L265.5,138.8 L267.0,137.6 L268.5,136.3 L270.0,135.1 L271.5,133.9 L273.0,132.7 L274.5,131.6 L276.0,130.4 L277.5,129.3 L279.0,128.2 L280.5,127.0 L282.0,126.0 L283.5,124.9 L285.0,123.8 L286.5,122.8 L288.0,121.7 L289.5,120.7 L291.0,119.7 L292.5,118.7 L294.0,117.7 L295.5,116.7 L297.0,115.8 L298.5,114.8 L300.0,113.9 L301.5,113.0 L303.0,112.1 L304.5,111.2 L306.0,110.3 L307.5,109.4 L309.0,108.5 L310.5,107.7 L312.0,106.8 L313.5,106.0 L315.0,105.2 L316.5,104.4 L318.0,103.6 L319.5,102.8 L321.0,102.0 L322.5,101.2 L324.0,100.5 L325.5,99.7 L327.0,99.0 L328.5,98.3 L330.0,97.6 L331.5,96.9 L333.0,96.2 L334.5,95.5 L336.0,94.8 L337.5,94.2 L339.0,93.5 L340.5,92.9 L342.0,92.2 L343.5,91.6 L345.0,91.0 L346.5,90.4 L348.0,89.8 L349.5,89.2 L351.0,88.6 L352.5,88.0 L354.0,87.5 L355.5,86.9 L357.0,86.4 L358.5,85.9 L360.0,85.3 L361.5,84.8 L363.0,84.3 L364.5,83.8 L366.0,83.4 L367.5,82.9 L369.0,82.4 L370.5,82.0 L372.0,81.6 L373.5,81.1 L375.0,80.7 L376.5,80.3 L378.0,79.9 L379.5,79.6 L381.0,79.2 L382.5,78.8 L384.0,78.5 L385.5,78.2 L387.0,77.9 L388.5,77.6 L390.0,77.3 L391.5,77.0 L393.0,76.8 L394.5,76.5 L396.0,76.3 L397.5,76.1 L399.0,75.9 L400.5,75.7 L402.0,75.5 L403.5,75.3 L405.0,75.2 L406.5,75.1 L408.0,74.9 L409.5,74.8 L411.0,74.7 L412.5,74.6 L414.0,74.5 L415.5,74.4 L417.0,74.4 L418.5,74.3 L420.0,74.2 L421.5,74.1 L423.0,74.1 L424.5,74.0 L426.0,73.9 L427.5,73.9 L429.0,73.8 L430.5,73.7 L432.0,73.6 L433.5,73.5 L435.0,73.4 L436.5,73.3 L438.0,73.2 L439.5,73.1 L441.0,72.9 L442.5,72.8 L444.0,72.6 L445.5,72.5 L447.0,72.3 L448.5,72.1 L449.0,72.0" stroke="#0000ff" stroke-width="1.9"/>
<path d="M52.5,317.0 L54.0,316.4 L55.5,315.9 L57.0,315.3 L58.5,314.7 L60.0,314.1 L61.5,313.5 L63.0,312.8 L64.5,312.2 L66.0,311.5 L67.5,310.9 L69.0,310.2 L70.5,309.5 L72.0,308.8 L73.5,308.1 L75.0,307.3 L76.5,306.6 L78.0,305.8 L79.5,305.1 L81.0,304.3 L82.5,303.5 L84.0,302.7 L85.5,301.8 L87.0,301.0 L88.5,300.1 L90.0,299.2 L91.5,298.3 L93.0,297.4 L94.5,296.5 L96.0,295.5 L97.5,294.5 L99.0,293.6 L100.5,292.5 L102.0,291.5 L103.5,290.5 L105.0,289.4 L106.5,288.3 L108.0,287.2 L109.5,286.1 L111.0,285.0 L112.5,283.8 L114.0,282.6 L115.5,281.4 L117.0,280.2 L118.5,279.0 L120.0,277.8 L121.5,276.6 L123.0,275.3 L124.5,274.0 L126.0,272.8 L127.5,271.5 L129.0,270.2 L130.5,268.8 L132.0,267.5 L133.5,266.2 L135.0,264.8 L136.5,263.5 L138.0,262.1 L139.5,260.7 L141.0,259.3 L142.5,257.9 L144.0,256.5 L145.5,255.1 L147.0,253.7 L148.5,252.3 L150.0,250.8 L151.5,249.4 L153.0,247.9 L154.5,246.5 L156.0,245.0 L157.5,243.6 L159.0,242.1 L160.5,240.6 L162.0,239.1 L163.5,237.7 L165.0,236.2 L166.5,234.7 L168.0,233.1 L169.5,231.6 L171.0,230.1 L172.5,228.6 L174.0,227.0 L175.5,225.5 L177.0,223.9 L178.5,222.4 L180.0,220.8 L181.5,219.2 L183.0,217.6 L184.5,216.0 L186.0,214.4 L187.5,212.8 L189.0,211.2 L190.5,209.5 L192.0,207.9 L193.5,206.2 L195.0,204.6 L196.5,202.9 L198.0,201.2 L199.5,199.6 L201.0,197.9 L202.5,196.2 L204.0,194.4 L205.5,192.7 L207.0,191.0 L208.5,189.3 L210.0,187.5 L211.5,185.8 L213.0,184.0 L214.5,182.3 L216.0,180.5 L217.5,178.8 L219.0,177.0 L220.5,175.3 L222.0,173.6 L223.5,171.8 L225.0,170.1 L226.5,168.4 L228.0,166.6 L229.5,164.9 L231.0,163.2 L232.5,161.5 L234.0,159.8 L235.5,158.1 L237.0,156.5 L238.5,154.8 L240.0,153.2 L241.5,151.5 L243.0,149.9 L244.5,148.3 L246.0,146.7 L247.5,145.2 L249.0,143.6 L250.5,142.1 L252.0,140.6 L253.5,139.1 L255.0,137.7 L256.5,136.2 L258.0,134.8 L259.5,133.4 L261.0,132.0 L262.5,130.6 L264.0,129.2 L265.5,127.9 L267.0,126.6 L268.5,125.3 L270.0,124.0 L271.5,122.7 L273.0,121.5 L274.5,120.3 L276.0,119.0 L277.5,117.8 L279.0,116.7 L280.5,115.5 L282.0,114.3 L283.5,113.2 L285.0,112.1 L286.5,111.0 L288.0,109.9 L289.5,108.8 L291.0,107.7 L292.5,106.7 L294.0,105.6 L295.5,104.6 L297.0,103.6 L298.5,102.6 L300.0,101.6 L301.5,100.7 L303.0,99.7 L304.5,98.8 L306.0,97.8 L307.5,96.9 L309.0,96.0 L310.5,95.1 L312.0,94.2 L313.5,93.3 L315.0,92.5 L316.5,91.6 L318.0,90.8 L319.5,90.0 L321.0,89.1 L322.5,88.3 L324.0,87.5 L325.5,86.7 L327.0,86.0 L328.5,85.2 L330.0,84.4 L331.5,83.7 L333.0,83.0 L334.5,82.2 L336.0,81.5 L337.5,80.8 L339.0,80.1 L340.5,79.4 L342.0,78.7 L343.5,78.1 L345.0,77.4 L346.5,76.8 L348.0,76.1 L349.5,75.5 L351.0,74.8 L352.5,74.2 L354.0,73.6 L355.5,73.0 L357.0,72.4 L358.5,71.8 L360.0,71.3 L361.5,70.7 L363.0,70.1 L364.5,69.6 L366.0,69.1 L367.5,68.5 L369.0,68.0 L370.5,67.6 L372.0,67.1 L373.5,66.6 L375.0,66.2 L376.5,65.7 L378.0,65.3 L379.5,64.9 L381.0,64.5 L382.5,64.2 L384.0,63.8 L385.5,63.5 L387.0,63.1 L388.5,62.8 L390.0,62.6 L391.5,62.3 L393.0,62.0 L394.5,61.8 L396.0,61.6 L397.5,61.4 L399.0,61.3 L400.5,61.1 L402.0,61.0 L403.5,60.9 L405.0,60.8 L406.5,60.7 L408.0,60.7 L409.5,60.6 L411.0,60.6 L412.5,60.6 L414.0,60.6 L415.5,60.6 L417.0,60.6 L418.5,60.6 L420.0,60.6 L421.5,60.7 L423.0,60.7 L424.5,60.7 L426.0,60.7 L427.5,60.8 L429.0,60.8 L430.5,60.8 L432.0,60.8 L433.5,60.8 L435.0,60.8 L436.5,60.8 L438.0,60.7 L439.5,60.7 L441.0,60.6 L442.5,60.6 L444.0,60.5 L445.5,60.3 L447.0,60.2 L448.5,60.1 L449.0,60.0" stroke="#0000ff" stroke-width="1.9" stroke-dasharray="17.5 4"/>
<path d="M52.5,317.0 L54.0,316.4 L55.5,315.7 L57.0,315.1 L58.5,314.4 L60.0,313.8 L61.5,313.1 L63.0,312.4 L64.5,311.7 L66.0,311.0 L67.5,310.3 L69.0,309.6 L70.5,308.9 L72.0,308.1 L73.5,307.4 L75.0,306.6 L76.5,305.9 L78.0,305.1 L79.5,304.3 L81.0,303.5 L82.5,302.6 L84.0,301.8 L85.5,300.9 L87.0,300.1 L88.5,299.2 L90.0,298.3 L91.5,297.3 L93.0,296.4 L94.5,295.4 L96.0,294.5 L97.5,293.5 L99.0,292.4 L100.5,291.4 L102.0,290.4 L103.5,289.3 L105.0,288.2 L106.5,287.1 L108.0,286.0 L109.5,284.8 L111.0,283.6 L112.5,282.5 L114.0,281.3 L115.5,280.0 L117.0,278.8 L118.5,277.5 L120.0,276.3 L121.5,275.0 L123.0,273.7 L124.5,272.4 L126.0,271.0 L127.5,269.7 L129.0,268.3 L130.5,266.9 L132.0,265.6 L133.5,264.2 L135.0,262.7 L136.5,261.3 L138.0,259.9 L139.5,258.4 L141.0,256.9 L142.5,255.4 L144.0,253.9 L145.5,252.4 L147.0,250.9 L148.5,249.4 L150.0,247.8 L151.5,246.3 L153.0,244.7 L154.5,243.1 L156.0,241.5 L157.5,240.0 L159.0,238.3 L160.5,236.7 L162.0,235.1 L163.5,233.5 L165.0,231.8 L166.5,230.2 L168.0,228.5 L169.5,226.8 L171.0,225.2 L172.5,223.5 L174.0,221.8 L175.5,220.1 L177.0,218.4 L178.5,216.6 L180.0,214.9 L181.5,213.2 L183.0,211.4 L184.5,209.7 L186.0,207.9 L187.5,206.1 L189.0,204.4 L190.5,202.6 L192.0,200.8 L193.5,199.0 L195.0,197.2 L196.5,195.4 L198.0,193.6 L199.5,191.8 L201.0,190.0 L202.5,188.1 L204.0,186.3 L205.5,184.5 L207.0,182.6 L208.5,180.8 L210.0,178.9 L211.5,177.1 L213.0,175.3 L214.5,173.4 L216.0,171.6 L217.5,169.7 L219.0,167.9 L220.5,166.1 L222.0,164.2 L223.5,162.4 L225.0,160.6 L226.5,158.8 L228.0,157.0 L229.5,155.2 L231.0,153.4 L232.5,151.6 L234.0,149.8 L235.5,148.1 L237.0,146.3 L238.5,144.6 L240.0,142.8 L241.5,141.1 L243.0,139.4 L244.5,137.7 L246.0,136.1 L247.5,134.4 L249.0,132.8 L250.5,131.1 L252.0,129.5 L253.5,127.9 L255.0,126.4 L256.5,124.8 L258.0,123.3 L259.5,121.7 L261.0,120.2 L262.5,118.7 L264.0,117.3 L265.5,115.8 L267.0,114.4 L268.5,113.0 L270.0,111.6 L271.5,110.2 L273.0,108.8 L274.5,107.5 L276.0,106.1 L277.5,104.8 L279.0,103.5 L280.5,102.2 L282.0,101.0 L283.5,99.7 L285.0,98.5 L286.5,97.3 L288.0,96.1 L289.5,94.9 L291.0,93.7 L292.5,92.6 L294.0,91.5 L295.5,90.4 L297.0,89.3 L298.5,88.2 L300.0,87.1 L301.5,86.1 L303.0,85.0 L304.5,84.0 L306.0,83.0 L307.5,82.1 L309.0,81.1 L310.5,80.2 L312.0,79.2 L313.5,78.3 L315.0,77.4 L316.5,76.5 L318.0,75.7 L319.5,74.8 L321.0,74.0 L322.5,73.1 L324.0,72.3 L325.5,71.5 L327.0,70.8 L328.5,70.0 L330.0,69.3 L331.5,68.5 L333.0,67.8 L334.5,67.1 L336.0,66.4 L337.5,65.7 L339.0,65.1 L340.5,64.4 L342.0,63.8 L343.5,63.2 L345.0,62.6 L346.5,62.0 L348.0,61.4 L349.5,60.9 L351.0,60.3 L352.5,59.8 L354.0,59.2 L355.5,58.7 L357.0,58.2 L358.5,57.7 L360.0,57.3 L361.5,56.8 L363.0,56.4 L364.5,55.9 L366.0,55.5 L367.5,55.1 L369.0,54.7 L370.5,54.3 L372.0,54.0 L373.5,53.6 L375.0,53.3 L376.5,52.9 L378.0,52.6 L379.5,52.3 L381.0,52.0 L382.5,51.7 L384.0,51.4 L385.5,51.2 L387.0,50.9 L388.5,50.7 L390.0,50.5 L391.5,50.3 L393.0,50.1 L394.5,49.9 L396.0,49.7 L397.5,49.5 L399.0,49.4 L400.5,49.2 L402.0,49.1 L403.5,49.0 L405.0,48.9 L406.5,48.8 L408.0,48.7 L409.5,48.6 L411.0,48.5 L412.5,48.4 L414.0,48.4 L415.5,48.3 L417.0,48.2 L418.5,48.2 L420.0,48.2 L421.5,48.1 L423.0,48.1 L424.5,48.0 L426.0,48.0 L427.5,48.0 L429.0,47.9 L430.5,47.9 L432.0,47.9 L433.5,47.8 L435.0,47.8 L436.5,47.7 L438.0,47.7 L439.5,47.6 L441.0,47.6 L442.5,47.5 L444.0,47.5 L445.5,47.4 L447.0,47.3 L448.5,47.2 L449.0,47.2" stroke="#0000ff" stroke-width="1.9" stroke-dasharray="2.4 2.3"/>
<path d="M52.5,317.0 L54.0,316.6 L55.5,316.1 L57.0,315.6 L58.5,315.1 L60.0,314.6 L61.5,314.0 L63.0,313.5 L64.5,312.9 L66.0,312.3 L67.5,311.7 L69.0,311.0 L70.5,310.4 L72.0,309.7 L73.5,309.1 L75.0,308.4 L76.5,307.6 L78.0,306.9 L79.5,306.2 L81.0,305.4 L82.5,304.6 L84.0,303.8 L85.5,303.0 L87.0,302.2 L88.5,301.3 L90.0,300.5 L91.5,299.6 L93.0,298.7 L94.5,297.8 L96.0,296.9 L97.5,295.9 L99.0,295.0 L100.5,294.0 L102.0,293.0 L103.5,292.0 L105.0,291.0 L106.5,289.9 L108.0,288.9 L109.5,287.8 L111.0,286.7 L112.5,285.7 L114.0,284.6 L115.5,283.4 L117.0,282.3 L118.5,281.2 L120.0,280.0 L121.5,278.9 L123.0,277.7 L124.5,276.5 L126.0,275.3 L127.5,274.1 L129.0,272.9 L130.5,271.7 L132.0,270.4 L133.5,269.2 L135.0,267.9 L136.5,266.7 L138.0,265.4 L139.5,264.1 L141.0,262.8 L142.5,261.6 L144.0,260.3 L145.5,259.0 L147.0,257.7 L148.5,256.4 L150.0,255.0 L151.5,253.7 L153.0,252.4 L154.5,251.1 L156.0,249.7 L157.5,248.4 L159.0,247.1 L160.5,245.7 L162.0,244.4 L163.5,243.0 L165.0,241.7 L166.5,240.3 L168.0,238.9 L169.5,237.5 L171.0,236.2 L172.5,234.8 L174.0,233.4 L175.5,232.0 L177.0,230.6 L178.5,229.2 L180.0,227.7 L181.5,226.3 L183.0,224.9 L184.5,223.5 L186.0,222.0 L187.5,220.6 L189.0,219.1 L190.5,217.7 L192.0,216.2 L193.5,214.7 L195.0,213.2 L196.5,211.8 L198.0,210.3 L199.5,208.8 L201.0,207.3 L202.5,205.8 L204.0,204.2 L205.5,202.7 L207.0,201.2 L208.5,199.7 L210.0,198.1 L211.5,196.6 L213.0,195.1 L214.5,193.5 L216.0,192.0 L217.5,190.4 L219.0,188.9 L220.5,187.4 L222.0,185.8 L223.5,184.3 L225.0,182.7 L226.5,181.2 L228.0,179.7 L229.5,178.2 L231.0,176.6 L232.5,175.1 L234.0,173.6 L235.5,172.1 L237.0,170.6 L238.5,169.1 L240.0,167.6 L241.5,166.2 L243.0,164.7 L244.5,163.2 L246.0,161.8 L247.5,160.4 L249.0,158.9 L250.5,157.5 L252.0,156.1 L253.5,154.7 L255.0,153.4 L256.5,152.0 L258.0,150.6 L259.5,149.3 L261.0,148.0 L262.5,146.7 L264.0,145.3 L265.5,144.1 L267.0,142.8 L268.5,141.5 L270.0,140.2 L271.5,139.0 L273.0,137.8 L274.5,136.5 L276.0,135.3 L277.5,134.1 L279.0,132.9 L280.5,131.8 L282.0,130.6 L283.5,129.4 L285.0,128.3 L286.5,127.1 L288.0,126.0 L289.5,124.9 L291.0,123.8 L292.5,122.7 L294.0,121.6 L295.5,120.5 L297.0,119.5 L298.5,118.4 L300.0,117.4 L301.5,116.4 L303.0,115.3 L304.5,114.3 L306.0,113.3 L307.5,112.3 L309.0,111.3 L310.5,110.4 L312.0,109.4 L313.5,108.5 L315.0,107.5 L316.5,106.6 L318.0,105.7 L319.5,104.8 L321.0,103.9 L322.5,103.0 L324.0,102.1 L325.5,101.3 L327.0,100.4 L328.5,99.6 L330.0,98.8 L331.5,98.0 L333.0,97.2 L334.5,96.4 L336.0,95.6 L337.5,94.8 L339.0,94.1 L340.5,93.3 L342.0,92.6 L343.5,91.9 L345.0,91.2 L346.5,90.5 L348.0,89.8 L349.5,89.2 L351.0,88.5 L352.5,87.9 L354.0,87.3 L355.5,86.6 L357.0,86.0 L358.5,85.4 L360.0,84.9 L361.5,84.3 L363.0,83.8 L364.5,83.2 L366.0,82.7 L367.5,82.2 L369.0,81.7 L370.5,81.2 L372.0,80.7 L373.5,80.2 L375.0,79.7 L376.5,79.3 L378.0,78.8 L379.5,78.4 L381.0,78.0 L382.5,77.6 L384.0,77.1 L385.5,76.8 L387.0,76.4 L388.5,76.0 L390.0,75.6 L391.5,75.3 L393.0,74.9 L394.5,74.6 L396.0,74.2 L397.5,73.9 L399.0,73.6 L400.5,73.3 L402.0,73.0 L403.5,72.7 L405.0,72.4 L406.5,72.1 L408.0,71.8 L409.5,71.5 L411.0,71.3 L412.5,71.0 L414.0,70.8 L415.5,70.5 L417.0,70.3 L418.5,70.0 L420.0,69.8 L421.5,69.5 L423.0,69.3 L424.5,69.0 L426.0,68.8 L427.5,68.6 L429.0,68.3 L430.5,68.1 L432.0,67.9 L433.5,67.6 L435.0,67.4 L436.5,67.1 L438.0,66.9 L439.5,66.6 L441.0,66.4 L442.5,66.1 L444.0,65.9 L445.5,65.6 L447.0,65.4 L448.5,65.1 L449.0,65.0" stroke="#ff0000" stroke-width="1.9" stroke-dasharray="7 2.4 1.8 2.4"/>
<path d="M52.5,317.0 L54.0,316.5 L55.5,315.9 L57.0,315.4 L58.5,314.8 L60.0,314.2 L61.5,313.6 L63.0,313.0 L64.5,312.4 L66.0,311.8 L67.5,311.1 L69.0,310.5 L70.5,309.8 L72.0,309.1 L73.5,308.4 L75.0,307.7 L76.5,307.0 L78.0,306.2 L79.5,305.5 L81.0,304.7 L82.5,303.9 L84.0,303.1 L85.5,302.3 L87.0,301.4 L88.5,300.6 L90.0,299.7 L91.5,298.8 L93.0,297.9 L94.5,297.0 L96.0,296.0 L97.5,295.1 L99.0,294.1 L100.5,293.1 L102.0,292.1 L103.5,291.0 L105.0,290.0 L106.5,288.9 L108.0,287.8 L109.5,286.7 L111.0,285.6 L112.5,284.4 L114.0,283.3 L115.5,282.1 L117.0,280.9 L118.5,279.8 L120.0,278.5 L121.5,277.3 L123.0,276.1 L124.5,274.8 L126.0,273.6 L127.5,272.3 L129.0,271.0 L130.5,269.7 L132.0,268.4 L133.5,267.1 L135.0,265.8 L136.5,264.5 L138.0,263.2 L139.5,261.8 L141.0,260.5 L142.5,259.1 L144.0,257.7 L145.5,256.4 L147.0,255.0 L148.5,253.6 L150.0,252.2 L151.5,250.8 L153.0,249.4 L154.5,248.1 L156.0,246.6 L157.5,245.2 L159.0,243.8 L160.5,242.4 L162.0,241.0 L163.5,239.6 L165.0,238.1 L166.5,236.7 L168.0,235.2 L169.5,233.8 L171.0,232.3 L172.5,230.8 L174.0,229.4 L175.5,227.9 L177.0,226.4 L178.5,224.9 L180.0,223.4 L181.5,221.9 L183.0,220.4 L184.5,218.8 L186.0,217.3 L187.5,215.8 L189.0,214.2 L190.5,212.6 L192.0,211.1 L193.5,209.5 L195.0,207.9 L196.5,206.3 L198.0,204.7 L199.5,203.1 L201.0,201.4 L202.5,199.8 L204.0,198.2 L205.5,196.5 L207.0,194.8 L208.5,193.2 L210.0,191.5 L211.5,189.8 L213.0,188.1 L214.5,186.4 L216.0,184.8 L217.5,183.1 L219.0,181.4 L220.5,179.7 L222.0,178.0 L223.5,176.3 L225.0,174.6 L226.5,172.9 L228.0,171.2 L229.5,169.6 L231.0,167.9 L232.5,166.2 L234.0,164.6 L235.5,162.9 L237.0,161.3 L238.5,159.6 L240.0,158.0 L241.5,156.4 L243.0,154.8 L244.5,153.2 L246.0,151.7 L247.5,150.1 L249.0,148.6 L250.5,147.0 L252.0,145.5 L253.5,144.0 L255.0,142.5 L256.5,141.1 L258.0,139.6 L259.5,138.2 L261.0,136.8 L262.5,135.4 L264.0,134.0 L265.5,132.6 L267.0,131.2 L268.5,129.9 L270.0,128.6 L271.5,127.2 L273.0,125.9 L274.5,124.7 L276.0,123.4 L277.5,122.1 L279.0,120.9 L280.5,119.7 L282.0,118.4 L283.5,117.2 L285.0,116.1 L286.5,114.9 L288.0,113.7 L289.5,112.6 L291.0,111.4 L292.5,110.3 L294.0,109.2 L295.5,108.1 L297.0,107.0 L298.5,105.9 L300.0,104.9 L301.5,103.8 L303.0,102.8 L304.5,101.7 L306.0,100.7 L307.5,99.7 L309.0,98.7 L310.5,97.8 L312.0,96.8 L313.5,95.8 L315.0,94.9 L316.5,94.0 L318.0,93.0 L319.5,92.1 L321.0,91.2 L322.5,90.3 L324.0,89.5 L325.5,88.6 L327.0,87.7 L328.5,86.9 L330.0,86.1 L331.5,85.2 L333.0,84.4 L334.5,83.6 L336.0,82.8 L337.5,82.0 L339.0,81.3 L340.5,80.5 L342.0,79.8 L343.5,79.0 L345.0,78.3 L346.5,77.6 L348.0,76.9 L349.5,76.2 L351.0,75.5 L352.5,74.8 L354.0,74.1 L355.5,73.5 L357.0,72.8 L358.5,72.2 L360.0,71.6 L361.5,70.9 L363.0,70.3 L364.5,69.7 L366.0,69.2 L367.5,68.6 L369.0,68.0 L370.5,67.5 L372.0,66.9 L373.5,66.4 L375.0,65.9 L376.5,65.4 L378.0,64.9 L379.5,64.4 L381.0,63.9 L382.5,63.5 L384.0,63.0 L385.5,62.6 L387.0,62.2 L388.5,61.8 L390.0,61.4 L391.5,61.0 L393.0,60.6 L394.5,60.3 L396.0,59.9 L397.5,59.6 L399.0,59.3 L400.5,59.0 L402.0,58.7 L403.5,58.4 L405.0,58.2 L406.5,57.9 L408.0,57.7 L409.5,57.4 L411.0,57.2 L412.5,57.0 L414.0,56.8 L415.5,56.6 L417.0,56.4 L418.5,56.2 L420.0,56.0 L421.5,55.8 L423.0,55.6 L424.5,55.4 L426.0,55.2 L427.5,55.0 L429.0,54.8 L430.5,54.7 L432.0,54.5 L433.5,54.3 L435.0,54.1 L436.5,53.9 L438.0,53.7 L439.5,53.5 L441.0,53.2 L442.5,53.0 L444.0,52.8 L445.5,52.5 L447.0,52.3 L448.5,52.0 L449.0,51.9" stroke="#ff0000" stroke-width="1.9" stroke-dasharray="7 2.8"/>
<path d="M52.5,317.0 L54.0,316.4 L55.5,315.8 L57.0,315.2 L58.5,314.6 L60.0,313.9 L61.5,313.3 L63.0,312.6 L64.5,312.0 L66.0,311.3 L67.5,310.6 L69.0,309.9 L70.5,309.2 L72.0,308.5 L73.5,307.8 L75.0,307.0 L76.5,306.3 L78.0,305.5 L79.5,304.7 L81.0,303.9 L82.5,303.1 L84.0,302.2 L85.5,301.4 L87.0,300.5 L88.5,299.7 L90.0,298.8 L91.5,297.9 L93.0,296.9 L94.5,296.0 L96.0,295.0 L97.5,294.0 L99.0,293.0 L100.5,292.0 L102.0,291.0 L103.5,289.9 L105.0,288.8 L106.5,287.7 L108.0,286.6 L109.5,285.5 L111.0,284.3 L112.5,283.2 L114.0,282.0 L115.5,280.8 L117.0,279.6 L118.5,278.3 L120.0,277.1 L121.5,275.8 L123.0,274.5 L124.5,273.2 L126.0,271.9 L127.5,270.6 L129.0,269.3 L130.5,267.9 L132.0,266.6 L133.5,265.2 L135.0,263.8 L136.5,262.4 L138.0,261.0 L139.5,259.6 L141.0,258.2 L142.5,256.8 L144.0,255.3 L145.5,253.9 L147.0,252.4 L148.5,250.9 L150.0,249.4 L151.5,247.9 L153.0,246.4 L154.5,244.9 L156.0,243.4 L157.5,241.9 L159.0,240.4 L160.5,238.8 L162.0,237.3 L163.5,235.7 L165.0,234.1 L166.5,232.6 L168.0,231.0 L169.5,229.4 L171.0,227.8 L172.5,226.2 L174.0,224.6 L175.5,222.9 L177.0,221.3 L178.5,219.7 L180.0,218.0 L181.5,216.4 L183.0,214.7 L184.5,213.0 L186.0,211.3 L187.5,209.6 L189.0,207.9 L190.5,206.2 L192.0,204.5 L193.5,202.8 L195.0,201.0 L196.5,199.3 L198.0,197.5 L199.5,195.7 L201.0,194.0 L202.5,192.2 L204.0,190.4 L205.5,188.6 L207.0,186.8 L208.5,185.0 L210.0,183.2 L211.5,181.4 L213.0,179.5 L214.5,177.7 L216.0,175.9 L217.5,174.1 L219.0,172.3 L220.5,170.4 L222.0,168.6 L223.5,166.8 L225.0,165.0 L226.5,163.2 L228.0,161.4 L229.5,159.6 L231.0,157.8 L232.5,156.0 L234.0,154.3 L235.5,152.5 L237.0,150.8 L238.5,149.0 L240.0,147.3 L241.5,145.6 L243.0,143.9 L244.5,142.2 L246.0,140.5 L247.5,138.9 L249.0,137.3 L250.5,135.6 L252.0,134.1 L253.5,132.5 L255.0,130.9 L256.5,129.4 L258.0,127.8 L259.5,126.3 L261.0,124.8 L262.5,123.4 L264.0,121.9 L265.5,120.5 L267.0,119.1 L268.5,117.6 L270.0,116.3 L271.5,114.9 L273.0,113.5 L274.5,112.2 L276.0,110.8 L277.5,109.5 L279.0,108.2 L280.5,106.9 L282.0,105.7 L283.5,104.4 L285.0,103.2 L286.5,101.9 L288.0,100.7 L289.5,99.5 L291.0,98.3 L292.5,97.2 L294.0,96.0 L295.5,94.8 L297.0,93.7 L298.5,92.6 L300.0,91.5 L301.5,90.4 L303.0,89.3 L304.5,88.2 L306.0,87.1 L307.5,86.1 L309.0,85.0 L310.5,84.0 L312.0,83.0 L313.5,81.9 L315.0,80.9 L316.5,80.0 L318.0,79.0 L319.5,78.0 L321.0,77.1 L322.5,76.1 L324.0,75.2 L325.5,74.3 L327.0,73.4 L328.5,72.5 L330.0,71.6 L331.5,70.8 L333.0,69.9 L334.5,69.1 L336.0,68.3 L337.5,67.5 L339.0,66.7 L340.5,65.9 L342.0,65.1 L343.5,64.4 L345.0,63.6 L346.5,62.9 L348.0,62.2 L349.5,61.5 L351.0,60.8 L352.5,60.1 L354.0,59.5 L355.5,58.8 L357.0,58.2 L358.5,57.5 L360.0,56.9 L361.5,56.3 L363.0,55.8 L364.5,55.2 L366.0,54.6 L367.5,54.1 L369.0,53.5 L370.5,53.0 L372.0,52.5 L373.5,52.0 L375.0,51.5 L376.5,51.0 L378.0,50.6 L379.5,50.1 L381.0,49.7 L382.5,49.2 L384.0,48.8 L385.5,48.4 L387.0,48.0 L388.5,47.6 L390.0,47.2 L391.5,46.9 L393.0,46.5 L394.5,46.2 L396.0,45.8 L397.5,45.5 L399.0,45.2 L400.5,44.9 L402.0,44.6 L403.5,44.3 L405.0,44.0 L406.5,43.7 L408.0,43.4 L409.5,43.2 L411.0,42.9 L412.5,42.7 L414.0,42.4 L415.5,42.2 L417.0,41.9 L418.5,41.7 L420.0,41.5 L421.5,41.3 L423.0,41.0 L424.5,40.8 L426.0,40.6 L427.5,40.4 L429.0,40.1 L430.5,39.9 L432.0,39.7 L433.5,39.5 L435.0,39.3 L436.5,39.0 L438.0,38.8 L439.5,38.6 L441.0,38.3 L442.5,38.1 L444.0,37.9 L445.5,37.6 L447.0,37.3 L448.5,37.1 L449.0,37.0" stroke="#ff0000" stroke-width="1.9"/>
<path d="M52.5,317.0 L54.0,316.3 L55.5,315.6 L57.0,314.9 L58.5,314.2 L60.0,313.5 L61.5,312.8 L63.0,312.1 L64.5,311.4 L66.0,310.7 L67.5,310.0 L69.0,309.2 L70.5,308.5 L72.0,307.7 L73.5,307.0 L75.0,306.2 L76.5,305.4 L78.0,304.6 L79.5,303.8 L81.0,303.0 L82.5,302.2 L84.0,301.3 L85.5,300.5 L87.0,299.6 L88.5,298.7 L90.0,297.8 L91.5,296.9 L93.0,295.9 L94.5,295.0 L96.0,294.0 L97.5,293.0 L99.0,292.0 L100.5,290.9 L102.0,289.8 L103.5,288.8 L105.0,287.6 L106.5,286.5 L108.0,285.4 L109.5,284.2 L111.0,283.0 L112.5,281.8 L114.0,280.5 L115.5,279.3 L117.0,278.0 L118.5,276.7 L120.0,275.4 L121.5,274.1 L123.0,272.8 L124.5,271.4 L126.0,270.0 L127.5,268.6 L129.0,267.2 L130.5,265.8 L132.0,264.3 L133.5,262.9 L135.0,261.4 L136.5,259.9 L138.0,258.4 L139.5,256.9 L141.0,255.4 L142.5,253.8 L144.0,252.3 L145.5,250.7 L147.0,249.1 L148.5,247.5 L150.0,245.9 L151.5,244.3 L153.0,242.7 L154.5,241.1 L156.0,239.4 L157.5,237.7 L159.0,236.1 L160.5,234.4 L162.0,232.7 L163.5,231.0 L165.0,229.3 L166.5,227.6 L168.0,225.8 L169.5,224.1 L171.0,222.4 L172.5,220.6 L174.0,218.8 L175.5,217.1 L177.0,215.3 L178.5,213.5 L180.0,211.7 L181.5,209.9 L183.0,208.1 L184.5,206.3 L186.0,204.5 L187.5,202.6 L189.0,200.8 L190.5,198.9 L192.0,197.1 L193.5,195.2 L195.0,193.4 L196.5,191.5 L198.0,189.6 L199.5,187.8 L201.0,185.9 L202.5,184.0 L204.0,182.1 L205.5,180.2 L207.0,178.3 L208.5,176.4 L210.0,174.5 L211.5,172.6 L213.0,170.7 L214.5,168.8 L216.0,166.9 L217.5,165.0 L219.0,163.1 L220.5,161.2 L222.0,159.3 L223.5,157.4 L225.0,155.6 L226.5,153.7 L228.0,151.8 L229.5,150.0 L231.0,148.1 L232.5,146.3 L234.0,144.4 L235.5,142.6 L237.0,140.8 L238.5,139.0 L240.0,137.2 L241.5,135.4 L243.0,133.7 L244.5,131.9 L246.0,130.2 L247.5,128.4 L249.0,126.7 L250.5,125.0 L252.0,123.4 L253.5,121.7 L255.0,120.0 L256.5,118.4 L258.0,116.8 L259.5,115.2 L261.0,113.6 L262.5,112.1 L264.0,110.5 L265.5,109.0 L267.0,107.4 L268.5,105.9 L270.0,104.4 L271.5,102.9 L273.0,101.5 L274.5,100.0 L276.0,98.6 L277.5,97.1 L279.0,95.7 L280.5,94.3 L282.0,92.9 L283.5,91.6 L285.0,90.2 L286.5,88.8 L288.0,87.5 L289.5,86.2 L291.0,84.8 L292.5,83.5 L294.0,82.2 L295.5,80.9 L297.0,79.7 L298.5,78.4 L300.0,77.1 L301.5,75.9 L303.0,74.7 L304.5,73.4 L306.0,72.2 L307.5,71.0 L309.0,69.8 L310.5,68.7 L312.0,67.5 L313.5,66.3 L315.0,65.2 L316.5,64.1 L318.0,63.0 L319.5,61.9 L321.0,60.8 L322.5,59.7 L324.0,58.7 L325.5,57.6 L327.0,56.6 L328.5,55.6 L330.0,54.7 L331.5,53.7 L333.0,52.8 L334.5,51.8 L336.0,50.9 L337.5,50.0 L339.0,49.2 L340.5,48.3 L342.0,47.5 L343.5,46.7 L345.0,45.9 L346.5,45.2 L348.0,44.4 L349.5,43.7 L351.0,43.0 L352.5,42.3 L354.0,41.7 L355.5,41.1 L357.0,40.5 L358.5,39.9 L360.0,39.3 L361.5,38.8 L363.0,38.2 L364.5,37.7 L366.0,37.3 L367.5,36.8 L369.0,36.3 L370.5,35.9 L372.0,35.5 L373.5,35.1 L375.0,34.7 L376.5,34.3 L378.0,33.9 L379.5,33.6 L381.0,33.2 L382.5,32.9 L384.0,32.6 L385.5,32.3 L387.0,32.0 L388.5,31.7 L390.0,31.4 L391.5,31.2 L393.0,30.9 L394.5,30.6 L396.0,30.4 L397.5,30.2 L399.0,29.9 L400.5,29.7 L402.0,29.5 L403.5,29.3 L405.0,29.0 L406.5,28.8 L408.0,28.6 L409.5,28.4 L411.0,28.2 L412.5,28.0 L414.0,27.8 L415.5,27.6 L417.0,27.5 L418.5,27.3 L420.0,27.1 L421.5,26.9 L423.0,26.7 L424.5,26.5 L426.0,26.4 L427.5,26.2 L429.0,26.0 L430.5,25.8 L432.0,25.7 L433.5,25.5 L435.0,25.3 L436.5,25.1 L438.0,24.9 L439.5,24.8 L441.0,24.6 L442.5,24.4 L444.0,24.2 L445.5,24.0 L447.0,23.9 L448.5,23.7 L449.0,23.6" stroke="#ff0000" stroke-width="1.9" stroke-dasharray="17.5 4"/>
<path d="M52.5,317.0 L54.0,316.3 L55.5,315.5 L57.0,314.8 L58.5,314.1 L60.0,313.3 L61.5,312.6 L63.0,311.8 L64.5,311.1 L66.0,310.3 L67.5,309.5 L69.0,308.8 L70.5,308.0 L72.0,307.2 L73.5,306.4 L75.0,305.6 L76.5,304.8 L78.0,304.0 L79.5,303.1 L81.0,302.3 L82.5,301.4 L84.0,300.5 L85.5,299.7 L87.0,298.8 L88.5,297.8 L90.0,296.9 L91.5,295.9 L93.0,295.0 L94.5,294.0 L96.0,293.0 L97.5,292.0 L99.0,290.9 L100.5,289.9 L102.0,288.8 L103.5,287.7 L105.0,286.5 L106.5,285.4 L108.0,284.2 L109.5,283.0 L111.0,281.8 L112.5,280.6 L114.0,279.3 L115.5,278.1 L117.0,276.8 L118.5,275.5 L120.0,274.1 L121.5,272.8 L123.0,271.4 L124.5,270.0 L126.0,268.6 L127.5,267.2 L129.0,265.7 L130.5,264.3 L132.0,262.8 L133.5,261.3 L135.0,259.7 L136.5,258.2 L138.0,256.6 L139.5,255.0 L141.0,253.4 L142.5,251.8 L144.0,250.2 L145.5,248.5 L147.0,246.8 L148.5,245.1 L150.0,243.4 L151.5,241.7 L153.0,239.9 L154.5,238.2 L156.0,236.4 L157.5,234.6 L159.0,232.8 L160.5,230.9 L162.0,229.1 L163.5,227.2 L165.0,225.4 L166.5,223.5 L168.0,221.6 L169.5,219.7 L171.0,217.8 L172.5,215.8 L174.0,213.9 L175.5,211.9 L177.0,210.0 L178.5,208.0 L180.0,206.0 L181.5,204.0 L183.0,202.0 L184.5,200.0 L186.0,198.0 L187.5,196.0 L189.0,194.0 L190.5,192.0 L192.0,190.0 L193.5,187.9 L195.0,185.9 L196.5,183.9 L198.0,181.8 L199.5,179.8 L201.0,177.7 L202.5,175.7 L204.0,173.7 L205.5,171.6 L207.0,169.6 L208.5,167.5 L210.0,165.5 L211.5,163.5 L213.0,161.4 L214.5,159.4 L216.0,157.4 L217.5,155.3 L219.0,153.3 L220.5,151.3 L222.0,149.3 L223.5,147.3 L225.0,145.3 L226.5,143.3 L228.0,141.3 L229.5,139.4 L231.0,137.4 L232.5,135.4 L234.0,133.5 L235.5,131.5 L237.0,129.6 L238.5,127.7 L240.0,125.8 L241.5,123.8 L243.0,122.0 L244.5,120.1 L246.0,118.2 L247.5,116.3 L249.0,114.5 L250.5,112.7 L252.0,110.9 L253.5,109.1 L255.0,107.3 L256.5,105.5 L258.0,103.7 L259.5,102.0 L261.0,100.2 L262.5,98.5 L264.0,96.8 L265.5,95.1 L267.0,93.5 L268.5,91.8 L270.0,90.2 L271.5,88.5 L273.0,86.9 L274.5,85.3 L276.0,83.7 L277.5,82.1 L279.0,80.6 L280.5,79.1 L282.0,77.5 L283.5,76.0 L285.0,74.5 L286.5,73.0 L288.0,71.6 L289.5,70.1 L291.0,68.7 L292.5,67.3 L294.0,65.9 L295.5,64.5 L297.0,63.1 L298.5,61.8 L300.0,60.5 L301.5,59.1 L303.0,57.8 L304.5,56.6 L306.0,55.3 L307.5,54.0 L309.0,52.8 L310.5,51.6 L312.0,50.4 L313.5,49.2 L315.0,48.1 L316.5,46.9 L318.0,45.8 L319.5,44.7 L321.0,43.6 L322.5,42.6 L324.0,41.5 L325.5,40.5 L327.0,39.5 L328.5,38.5 L330.0,37.6 L331.5,36.6 L333.0,35.7 L334.5,34.8 L336.0,33.9 L337.5,33.1 L339.0,32.2 L340.5,31.4 L342.0,30.7 L343.5,29.9 L345.0,29.1 L346.5,28.4 L348.0,27.7 L349.5,27.1 L351.0,26.4 L352.5,25.8 L354.0,25.2 L355.5,24.6 L357.0,24.1 L358.5,23.5 L360.0,23.0 L361.5,22.5 L363.0,22.0 L364.5,21.6 L366.0,21.1 L367.5,20.7 L369.0,20.3 L370.5,19.9 L372.0,19.6 L373.5,19.2 L375.0,18.9 L376.5,18.5 L378.0,18.2 L379.5,17.9 L381.0,17.6 L382.5,17.3 L384.0,17.0 L385.5,16.8 L387.0,16.5 L388.5,16.3 L390.0,16.0 L391.5,15.8 L393.0,15.6 L394.5,15.4 L396.0,15.2 L397.5,15.0 L399.0,14.8 L400.5,14.6 L402.0,14.4 L403.5,14.2 L405.0,14.0 L406.5,13.8 L408.0,13.6 L409.5,13.4 L411.0,13.2 L412.5,13.1 L414.0,12.9 L415.5,12.7 L417.0,12.6 L418.5,12.4 L420.0,12.2 L421.5,12.1 L423.0,11.9 L424.5,11.8 L426.0,11.6 L427.5,11.5 L429.0,11.3 L430.5,11.2 L432.0,11.0 L433.5,10.9 L435.0,10.8 L436.5,10.6 L438.0,10.5 L439.5,10.4 L441.0,10.2 L442.5,10.1 L444.0,10.0 L445.5,9.9 L447.0,9.8 L448.5,9.6 L449.0,9.6" stroke="#ff0000" stroke-width="1.9" stroke-dasharray="2.4 2.3"/>
</g>
<rect x="355.7" y="0" width="93.30000000000001" height="316.6" fill="#ff00ff" fill-opacity="0.16"/>
<rect x="52.5" y="28.4" width="396.5" height="26.0" fill="#ffff00" fill-opacity="0.2"/>
<line x1="52.5" y1="28.4" x2="449" y2="28.4" stroke="#ffee00" stroke-opacity="0.6" stroke-width="1.5"/>
<line x1="52.5" y1="54.4" x2="449" y2="54.4" stroke="#ffee00" stroke-opacity="0.6" stroke-width="1.5"/>
<rect x="52.5" y="59.7" width="396.5" height="11.200000000000003" fill="#00ffff" fill-opacity="0.2"/>
<line x1="52.5" y1="59.7" x2="449" y2="59.7" stroke="#00e5ff" stroke-opacity="0.55" stroke-width="1.3"/>
<line x1="52.5" y1="70.9" x2="449" y2="70.9" stroke="#00e5ff" stroke-opacity="0.55" stroke-width="1.3"/>
<path d="M52.5,0.2 H448.7 V316.6 H52.5 Z" stroke="#666" stroke-width="0.8" fill="none"/>
<g stroke="#444" stroke-width="0.9" fill="none">
<path d="M67.4,316.6 v-3.3 M67.4,0 v3.3"/>
<path d="M84.8,316.6 v-3.3 M84.8,0 v3.3"/>
<path d="M102.3,316.6 v-3.3 M102.3,0 v3.3"/>
<path d="M119.7,316.6 v-4.5 M119.7,0 v4.5"/>
<path d="M137.1,316.6 v-3.3 M137.1,0 v3.3"/>
<path d="M154.5,316.6 v-3.3 M154.5,0 v3.3"/>
<path d="M172.0,316.6 v-3.3 M172.0,0 v3.3"/>
<path d="M189.4,316.6 v-4.5 M189.4,0 v4.5"/>
<path d="M206.8,316.6 v-3.3 M206.8,0 v3.3"/>
<path d="M224.3,316.6 v-3.3 M224.3,0 v3.3"/>
<path d="M241.7,316.6 v-3.3 M241.7,0 v3.3"/>
<path d="M259.1,316.6 v-4.5 M259.1,0 v4.5"/>
<path d="M276.5,316.6 v-3.3 M276.5,0 v3.3"/>
<path d="M293.9,316.6 v-3.3 M293.9,0 v3.3"/>
<path d="M311.4,316.6 v-3.3 M311.4,0 v3.3"/>
<path d="M328.8,316.6 v-4.5 M328.8,0 v4.5"/>
<path d="M346.2,316.6 v-3.3 M346.2,0 v3.3"/>
<path d="M363.6,316.6 v-3.3 M363.6,0 v3.3"/>
<path d="M381.1,316.6 v-3.3 M381.1,0 v3.3"/>
<path d="M398.5,316.6 v-4.5 M398.5,0 v4.5"/>
<path d="M415.9,316.6 v-3.3 M415.9,0 v3.3"/>
<path d="M433.3,316.6 v-3.3 M433.3,0 v3.3"/>
<path d="M450.8,316.6 v-3.3 M450.8,0 v3.3"/>
<path d="M52.5,307.8 h3.3 M449,307.8 h-3.5999999999999996"/>
<path d="M52.5,294.1 h3.3 M449,294.1 h-3.5999999999999996"/>
<path d="M52.5,280.4 h3.3 M449,280.4 h-3.5999999999999996"/>
<path d="M52.5,266.7 h4.5 M449,266.7 h-4.8"/>
<path d="M52.5,253.0 h3.3 M449,253.0 h-3.5999999999999996"/>
<path d="M52.5,239.3 h3.3 M449,239.3 h-3.5999999999999996"/>
<path d="M52.5,225.6 h3.3 M449,225.6 h-3.5999999999999996"/>
<path d="M52.5,211.9 h3.3 M449,211.9 h-3.5999999999999996"/>
<path d="M52.5,198.2 h4.5 M449,198.2 h-4.8"/>
<path d="M52.5,184.5 h3.3 M449,184.5 h-3.5999999999999996"/>
<path d="M52.5,170.8 h3.3 M449,170.8 h-3.5999999999999996"/>
<path d="M52.5,157.1 h3.3 M449,157.1 h-3.5999999999999996"/>
<path d="M52.5,143.4 h3.3 M449,143.4 h-3.5999999999999996"/>
<path d="M52.5,129.7 h4.5 M449,129.7 h-4.8"/>
<path d="M52.5,116.0 h3.3 M449,116.0 h-3.5999999999999996"/>
<path d="M52.5,102.3 h3.3 M449,102.3 h-3.5999999999999996"/>
<path d="M52.5,88.6 h3.3 M449,88.6 h-3.5999999999999996"/>
<path d="M52.5,74.9 h3.3 M449,74.9 h-3.5999999999999996"/>
<path d="M52.5,61.2 h4.5 M449,61.2 h-4.8"/>
<path d="M52.5,47.5 h3.3 M449,47.5 h-3.5999999999999996"/>
<path d="M52.5,33.8 h3.3 M449,33.8 h-3.5999999999999996"/>
<path d="M52.5,20.1 h3.3 M449,20.1 h-3.5999999999999996"/>
<path d="M52.5,6.4 h3.3 M449,6.4 h-3.5999999999999996"/>
</g>
<g font-size="17.5" fill="#000">
<text x="119.7" y="336" text-anchor="middle">17.8</text>
<text x="189.4" y="336" text-anchor="middle">18.0</text>
<text x="259.1" y="336" text-anchor="middle">18.2</text>
<text x="328.8" y="336" text-anchor="middle">18.4</text>
<text x="398.5" y="336" text-anchor="middle">18.6</text>
<text x="49.8" y="272.5" text-anchor="end">0.5</text>
<text x="49.8" y="204.0" text-anchor="end">1.0</text>
<text x="49.8" y="135.5" text-anchor="end">1.5</text>
<text x="49.8" y="67.0" text-anchor="end">2.0</text>
</g>
<text x="197.2" y="364.2" font-size="16.8" textLength="106.4" lengthAdjust="spacingAndGlyphs">Log <tspan font-style="italic">ρ</tspan><tspan font-style="italic" font-size="11" dy="3">c</tspan><tspan dy="-3"> [kg/</tspan><tspan font-style="italic">m</tspan><tspan font-size="11" dy="-6">3</tspan><tspan dy="6">]</tspan></text>
<text transform="translate(16.8,187) rotate(-90)" font-size="17.3" textLength="57" lengthAdjust="spacingAndGlyphs">M [<tspan font-style="italic">M</tspan><tspan font-size="13" dy="5">⊙</tspan><tspan dy="-5">]</tspan></text>
<text x="89.9" y="46" font-size="14.8" textLength="93.8" lengthAdjust="spacingAndGlyphs">PSR J0740+6620</text>
<text x="89.9" y="69.6" font-size="14.8" textLength="93.8" lengthAdjust="spacingAndGlyphs">PSR J1614−2230</text>
<text x="112.4" y="147.8" font-size="16.5" textLength="48.4" lengthAdjust="spacingAndGlyphs">4D–GR</text>
<text x="281.6" y="21.2" font-size="15" fill="#ff0000" textLength="65.9" lengthAdjust="spacingAndGlyphs"><tspan font-style="italic">α</tspan> = 20 km<tspan font-size="10" dy="-5.5">2</tspan></text>
<text x="184" y="250.6" font-size="15" fill="#0000ff" textLength="65.9" lengthAdjust="spacingAndGlyphs"><tspan font-style="italic">α</tspan> = 10 km<tspan font-size="10" dy="-5.5">2</tspan></text>
<text x="373.9" y="141.3" font-size="16" fill="#ff00ff" textLength="57.9" lengthAdjust="spacingAndGlyphs">v<tspan font-size="11" dy="3.5">s</tspan><tspan font-size="11" dy="-10.5" dx="-2">2</tspan><tspan dy="7">/c</tspan><tspan font-size="11" dy="-7">2</tspan><tspan dy="7"> &gt; 1</tspan></text>
<rect x="312.6" y="160.7" width="97.19999999999999" height="121.30000000000001" fill="#f3f3f3" stroke="#b2b2b2" stroke-width="1"/>
<line x1="318.9" y1="173.2" x2="339.3" y2="173.2" stroke="#000" stroke-width="1.8" stroke-dasharray="3.8 1.6 1.2 1.6"/>
<text transform="translate(345.2,177.7) scale(1.05,1)" font-size="14"><tspan font-style="italic">β</tspan><tspan font-style="italic" font-size="9.6" dy="2.7">H</tspan><tspan dy="-2.7"> = −0.4</tspan></text>
<line x1="318.9" y1="196.4" x2="339.3" y2="196.4" stroke="#000" stroke-width="1.8" stroke-dasharray="5 2.55"/>
<text transform="translate(345.2,200.9) scale(1.05,1)" font-size="14"><tspan font-style="italic">β</tspan><tspan font-style="italic" font-size="9.6" dy="2.7">H</tspan><tspan dy="-2.7"> = −0.2</tspan></text>
<line x1="318.9" y1="219.7" x2="339.3" y2="219.7" stroke="#000" stroke-width="1.8"/>
<text transform="translate(345.2,224.2) scale(1.05,1)" font-size="14"><tspan font-style="italic">β</tspan><tspan font-style="italic" font-size="9.6" dy="2.7">H</tspan><tspan dy="-2.7"> = 0</tspan></text>
<line x1="318.9" y1="242.9" x2="339.3" y2="242.9" stroke="#000" stroke-width="1.8" stroke-dasharray="9.2 2.1"/>
<text transform="translate(345.2,247.4) scale(1.05,1)" font-size="14"><tspan font-style="italic">β</tspan><tspan font-style="italic" font-size="9.6" dy="2.7">H</tspan><tspan dy="-2.7"> = 0.2</tspan></text>
<line x1="318.9" y1="266.2" x2="339.3" y2="266.2" stroke="#000" stroke-width="1.8" stroke-dasharray="1.5 1.6"/>
<text transform="translate(345.2,270.7) scale(1.05,1)" font-size="14"><tspan font-style="italic">β</tspan><tspan font-style="italic" font-size="9.6" dy="2.7">H</tspan><tspan dy="-2.7"> = 0.4</tspan></text>
</svg>
</body></html>
